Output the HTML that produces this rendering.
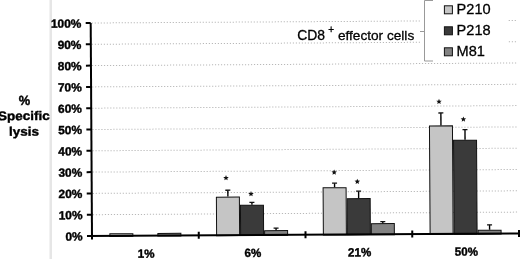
<!DOCTYPE html>
<html><head><meta charset="utf-8"><style>
html,body{margin:0;padding:0;background:#fff;}
body{width:520px;height:259px;overflow:hidden;position:relative;}
svg{position:absolute;left:0;top:0;display:block;filter:blur(0.35px);}
text{font-family:"Liberation Sans",sans-serif;fill:#000;}
.b{font-weight:bold;stroke:#000;stroke-width:0.4px;}
.r{stroke:#000;stroke-width:0.3px;}
</style></head><body>
<svg width="520" height="259" viewBox="0 0 520 259">
<rect x="49.5" y="0" width="2.5" height="259" fill="#e6e6e6"/>
<g transform="rotate(-0.35 92.0 236.0)">
<line x1="93.0" y1="214.70" x2="519.0" y2="214.70" stroke="#b8b8b8" stroke-width="1" stroke-dasharray="1.2 1.8"/>
<line x1="93.0" y1="193.40" x2="519.0" y2="193.40" stroke="#b8b8b8" stroke-width="1" stroke-dasharray="1.2 1.8"/>
<line x1="93.0" y1="172.10" x2="519.0" y2="172.10" stroke="#b8b8b8" stroke-width="1" stroke-dasharray="1.2 1.8"/>
<line x1="93.0" y1="150.80" x2="519.0" y2="150.80" stroke="#b8b8b8" stroke-width="1" stroke-dasharray="1.2 1.8"/>
<line x1="93.0" y1="129.50" x2="519.0" y2="129.50" stroke="#b8b8b8" stroke-width="1" stroke-dasharray="1.2 1.8"/>
<line x1="93.0" y1="108.20" x2="519.0" y2="108.20" stroke="#b8b8b8" stroke-width="1" stroke-dasharray="1.2 1.8"/>
<line x1="93.0" y1="86.90" x2="519.0" y2="86.90" stroke="#b8b8b8" stroke-width="1" stroke-dasharray="1.2 1.8"/>
<line x1="93.0" y1="65.60" x2="519.0" y2="65.60" stroke="#b8b8b8" stroke-width="1" stroke-dasharray="1.2 1.8"/>
<line x1="93.0" y1="44.30" x2="519.0" y2="44.30" stroke="#b8b8b8" stroke-width="1" stroke-dasharray="1.2 1.8"/>
<line x1="93.0" y1="23.00" x2="519.0" y2="23.00" stroke="#b8b8b8" stroke-width="1" stroke-dasharray="1.2 1.8"/>
<rect x="109.88" y="233.94" width="23.00" height="2.56" fill="#c5c5c5" stroke="#111" stroke-width="1"/>
<rect x="157.88" y="233.84" width="23.00" height="2.66" fill="#828282" stroke="#111" stroke-width="1"/>
<rect x="216.62" y="197.95" width="23.00" height="38.55" fill="#c5c5c5" stroke="#111" stroke-width="1"/>
<line x1="228.12" y1="197.45" x2="228.12" y2="191.06" stroke="#000" stroke-width="1.4"/>
<line x1="225.62" y1="191.06" x2="230.62" y2="191.06" stroke="#111" stroke-width="1.3"/>
<rect x="240.62" y="206.25" width="23.00" height="30.25" fill="#3a3a3a" stroke="#111" stroke-width="1"/>
<line x1="252.12" y1="205.75" x2="252.12" y2="203.41" stroke="#000" stroke-width="1.4"/>
<line x1="249.62" y1="203.41" x2="254.62" y2="203.41" stroke="#111" stroke-width="1.3"/>
<rect x="264.62" y="231.81" width="23.00" height="4.69" fill="#828282" stroke="#111" stroke-width="1"/>
<line x1="276.12" y1="231.31" x2="276.12" y2="229.18" stroke="#000" stroke-width="1.4"/>
<line x1="273.62" y1="229.18" x2="278.62" y2="229.18" stroke="#111" stroke-width="1.3"/>
<rect x="323.38" y="189.21" width="23.00" height="47.29" fill="#c5c5c5" stroke="#111" stroke-width="1"/>
<line x1="334.88" y1="188.71" x2="334.88" y2="184.67" stroke="#000" stroke-width="1.4"/>
<line x1="332.38" y1="184.67" x2="337.38" y2="184.67" stroke="#111" stroke-width="1.3"/>
<rect x="347.38" y="200.29" width="23.00" height="36.21" fill="#3a3a3a" stroke="#111" stroke-width="1"/>
<line x1="358.88" y1="199.79" x2="358.88" y2="192.76" stroke="#000" stroke-width="1.4"/>
<line x1="356.38" y1="192.76" x2="361.38" y2="192.76" stroke="#111" stroke-width="1.3"/>
<rect x="371.38" y="225.42" width="23.00" height="11.08" fill="#828282" stroke="#111" stroke-width="1"/>
<line x1="382.88" y1="224.92" x2="382.88" y2="223.43" stroke="#000" stroke-width="1.4"/>
<line x1="380.38" y1="223.43" x2="385.38" y2="223.43" stroke="#111" stroke-width="1.3"/>
<rect x="430.12" y="128.08" width="23.00" height="108.42" fill="#c5c5c5" stroke="#111" stroke-width="1"/>
<line x1="441.62" y1="127.58" x2="441.62" y2="115.12" stroke="#000" stroke-width="1.4"/>
<line x1="439.12" y1="115.12" x2="444.12" y2="115.12" stroke="#111" stroke-width="1.3"/>
<rect x="454.12" y="142.57" width="23.00" height="93.93" fill="#3a3a3a" stroke="#111" stroke-width="1"/>
<line x1="465.62" y1="142.07" x2="465.62" y2="131.84" stroke="#000" stroke-width="1.4"/>
<line x1="463.12" y1="131.84" x2="468.12" y2="131.84" stroke="#111" stroke-width="1.3"/>
<rect x="478.12" y="232.67" width="23.00" height="3.83" fill="#828282" stroke="#111" stroke-width="1"/>
<line x1="489.62" y1="232.17" x2="489.62" y2="227.27" stroke="#000" stroke-width="1.4"/>
<line x1="487.12" y1="227.27" x2="492.12" y2="227.27" stroke="#111" stroke-width="1.3"/>
<line x1="92.0" y1="23.0" x2="92.0" y2="239.5" stroke="#000" stroke-width="2"/>
<line x1="87.0" y1="236.0" x2="519.0" y2="236.0" stroke="#000" stroke-width="2"/>
<line x1="87.0" y1="236.00" x2="92.0" y2="236.00" stroke="#000" stroke-width="2"/>
<line x1="87.0" y1="214.70" x2="92.0" y2="214.70" stroke="#000" stroke-width="2"/>
<line x1="87.0" y1="193.40" x2="92.0" y2="193.40" stroke="#000" stroke-width="2"/>
<line x1="87.0" y1="172.10" x2="92.0" y2="172.10" stroke="#000" stroke-width="2"/>
<line x1="87.0" y1="150.80" x2="92.0" y2="150.80" stroke="#000" stroke-width="2"/>
<line x1="87.0" y1="129.50" x2="92.0" y2="129.50" stroke="#000" stroke-width="2"/>
<line x1="87.0" y1="108.20" x2="92.0" y2="108.20" stroke="#000" stroke-width="2"/>
<line x1="87.0" y1="86.90" x2="92.0" y2="86.90" stroke="#000" stroke-width="2"/>
<line x1="87.0" y1="65.60" x2="92.0" y2="65.60" stroke="#000" stroke-width="2"/>
<line x1="87.0" y1="44.30" x2="92.0" y2="44.30" stroke="#000" stroke-width="2"/>
<line x1="87.0" y1="23.00" x2="92.0" y2="23.00" stroke="#000" stroke-width="2"/>
<line x1="198.75" y1="232.5" x2="198.75" y2="239.5" stroke="#000" stroke-width="2"/>
<line x1="305.50" y1="232.5" x2="305.50" y2="239.5" stroke="#000" stroke-width="2"/>
<line x1="412.25" y1="232.5" x2="412.25" y2="239.5" stroke="#000" stroke-width="2"/>
<line x1="519.00" y1="232.5" x2="519.00" y2="239.5" stroke="#000" stroke-width="2"/>
<text transform="translate(82.60 240.50) scale(1.0 1)" text-anchor="end" class="b" font-size="11.9">0%</text>
<text transform="translate(82.60 219.20) scale(1.0 1)" text-anchor="end" class="b" font-size="11.9">10%</text>
<text transform="translate(82.60 197.90) scale(1.0 1)" text-anchor="end" class="b" font-size="11.9">20%</text>
<text transform="translate(82.60 176.60) scale(1.0 1)" text-anchor="end" class="b" font-size="11.9">30%</text>
<text transform="translate(82.60 155.30) scale(1.0 1)" text-anchor="end" class="b" font-size="11.9">40%</text>
<text transform="translate(82.60 134.00) scale(1.0 1)" text-anchor="end" class="b" font-size="11.9">50%</text>
<text transform="translate(82.60 112.70) scale(1.0 1)" text-anchor="end" class="b" font-size="11.9">60%</text>
<text transform="translate(82.60 91.40) scale(1.0 1)" text-anchor="end" class="b" font-size="11.9">70%</text>
<text transform="translate(82.60 70.10) scale(1.0 1)" text-anchor="end" class="b" font-size="11.9">80%</text>
<text transform="translate(82.60 48.80) scale(1.0 1)" text-anchor="end" class="b" font-size="11.9">90%</text>
<text transform="translate(82.60 27.50) scale(1.0 1)" text-anchor="end" class="b" font-size="11.9">100%</text>
<text transform="translate(145.97 258.00) scale(0.965 1)" text-anchor="middle" class="b" font-size="12.0">1%</text>
<text transform="translate(252.72 258.00) scale(0.965 1)" text-anchor="middle" class="b" font-size="12.0">6%</text>
<text transform="translate(359.48 258.00) scale(0.965 1)" text-anchor="middle" class="b" font-size="12.0">21%</text>
<text transform="translate(466.23 258.00) scale(0.965 1)" text-anchor="middle" class="b" font-size="12.0">50%</text>
<text transform="translate(25.20 104.60) scale(0.97 1)" text-anchor="middle" class="b" font-size="13.3">%</text>
<text transform="translate(24.50 119.70) scale(1.08 1)" text-anchor="middle" class="b" font-size="12.5">Specific</text>
<text transform="translate(24.50 135.30) scale(1.08 1)" text-anchor="middle" class="b" font-size="12.5">lysis</text>
</g>
<rect x="420" y="0" width="87" height="61.5" fill="#fff"/>
<path d="M433 0.5 H424.5 V61 H433 M420 31.5 H424.5" fill="none" stroke="#999" stroke-width="1"/>
<rect x="444.4" y="5.8" width="8" height="8" fill="#c5c5c5" stroke="#111" stroke-width="1"/>
<text transform="translate(456.6 14.10) scale(0.96 1)" class="r" font-size="15.2">P210</text>
<rect x="444.4" y="26.8" width="8" height="8" fill="#3a3a3a" stroke="#111" stroke-width="1"/>
<text transform="translate(456.6 35.10) scale(0.96 1)" class="r" font-size="15.2">P218</text>
<rect x="444.4" y="47.8" width="8" height="8" fill="#828282" stroke="#111" stroke-width="1"/>
<text transform="translate(456.6 56.10) scale(0.96 1)" class="r" font-size="15.2">M81</text>
<text x="297.3" y="40" class="r" font-size="13.9">CD8</text>
<text x="328.2" y="32.8" class="r" font-size="10">+</text>
<text x="337.9" y="40" class="r" font-size="13.65">effector cells</text>
<polygon points="226.00,175.10 226.76,176.95 228.76,177.10 227.24,178.40 227.70,180.35 226.00,179.30 224.30,180.35 224.76,178.40 223.24,177.10 225.24,176.95" fill="#111"/>
<polygon points="251.00,191.10 251.76,192.95 253.76,193.10 252.24,194.40 252.70,196.35 251.00,195.30 249.30,196.35 249.76,194.40 248.24,193.10 250.24,192.95" fill="#111"/>
<polygon points="334.20,169.50 334.96,171.35 336.96,171.50 335.44,172.80 335.90,174.75 334.20,173.70 332.50,174.75 332.96,172.80 331.44,171.50 333.44,171.35" fill="#111"/>
<polygon points="357.30,178.70 358.06,180.55 360.06,180.70 358.54,182.00 359.00,183.95 357.30,182.90 355.60,183.95 356.06,182.00 354.54,180.70 356.54,180.55" fill="#111"/>
<polygon points="439.00,98.80 439.76,100.65 441.76,100.80 440.24,102.10 440.70,104.05 439.00,103.00 437.30,104.05 437.76,102.10 436.24,100.80 438.24,100.65" fill="#111"/>
<polygon points="463.40,116.40 464.16,118.25 466.16,118.40 464.64,119.70 465.10,121.65 463.40,120.60 461.70,121.65 462.16,119.70 460.64,118.40 462.64,118.25" fill="#111"/>
</svg>
</body></html>
